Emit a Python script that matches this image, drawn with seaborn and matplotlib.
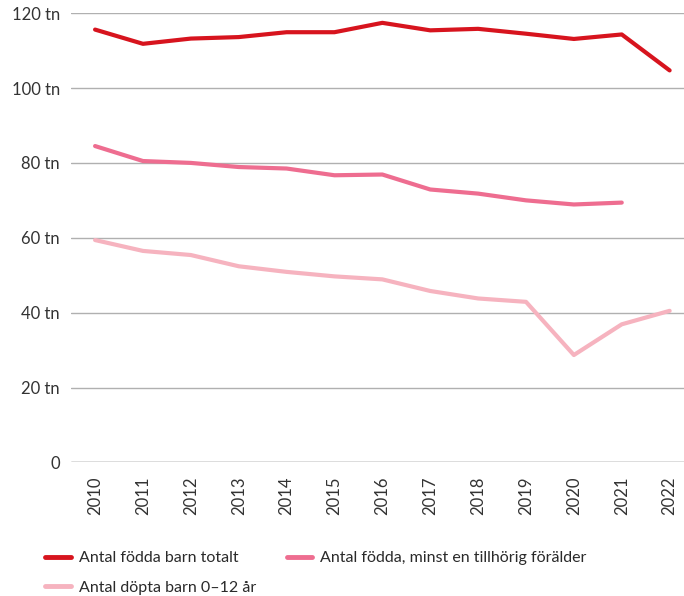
import matplotlib
matplotlib.use("Agg")
import matplotlib.pyplot as plt
import numpy as np
import pandas as pd
import seaborn as sns

years = list(range(2010, 2023))
fodda_totalt = [115.6, 111.8, 113.2, 113.6, 114.9, 114.9, 117.4, 115.4, 115.8, 114.5, 113.1, 114.3, 104.7]
fodda_tillhorig = [84.5, 80.5, 80.0, 78.9, 78.5, 76.7, 76.9, 72.9, 71.8, 70.0, 68.9, 69.4, np.nan]
dopta_barn = [59.4, 56.5, 55.4, 52.4, 50.9, 49.7, 48.9, 45.8, 43.8, 42.9, 28.7, 36.9, 40.5]

series_names = [
    "Antal födda barn totalt",
    "Antal födda, minst en tillhörig förälder",
    "Antal döpta barn 0–12 år",
]
colors = ["#d7141e", "#ee6d90", "#f6b3bf"]

df = pd.DataFrame({"år": years, series_names[0]: fodda_totalt,
                   series_names[1]: fodda_tillhorig, series_names[2]: dopta_barn})
long = df.melt(id_vars="år", var_name="serie", value_name="antal").dropna()

sns.set_theme(style="white")
plt.rcParams["font.family"] = ["Lato", "DejaVu Sans"]

fig = plt.figure(figsize=(6.84, 5.96), dpi=100)
ax = fig.add_axes([0.104, 0.224, 0.896, 0.754])

sns.lineplot(data=long, x="år", y="antal", hue="serie", hue_order=series_names,
             palette=colors, linewidth=3.0, ax=ax, legend=True)

ax.set_ylim(0, 120)
ax.set_xlim(2009.5, 2022.3)
yticks = [0, 20, 40, 60, 80, 100, 120]
ax.set_yticks(yticks)
ax.set_yticklabels(["0" if t == 0 else f"{t} tn" for t in yticks])
ax.set_xticks(years)
ax.set_xticklabels([str(y) for y in years], rotation=90)
ax.tick_params(axis="both", labelsize=12, colors="#333333", length=0)
ax.tick_params(axis="x", pad=10)
ax.tick_params(axis="y", pad=8)

for t in yticks:
    ax.axhline(t, color="#555555" if t == 0 else "#b0b0b0", linewidth=1.0, zorder=0)
for s in ax.spines.values():
    s.set_visible(False)
ax.set_xlabel("")
ax.set_ylabel("")

handles, labels = ax.get_legend_handles_labels()
order = [0, 2, 1]
leg = ax.legend([handles[i] for i in order], [labels[i] for i in order],
                loc="upper left", bbox_to_anchor=(-0.042, -0.197), ncol=2,
                frameon=False, fontsize=11.5, handlelength=1.6, handletextpad=0.5,
                columnspacing=1.9, labelspacing=0.95, borderaxespad=0, borderpad=0)
for line in leg.get_lines():
    line.set_linewidth(3.5)
for txt in leg.get_texts():
    txt.set_color("#2a2a2a")

fig.savefig("out.png", dpi=100)
